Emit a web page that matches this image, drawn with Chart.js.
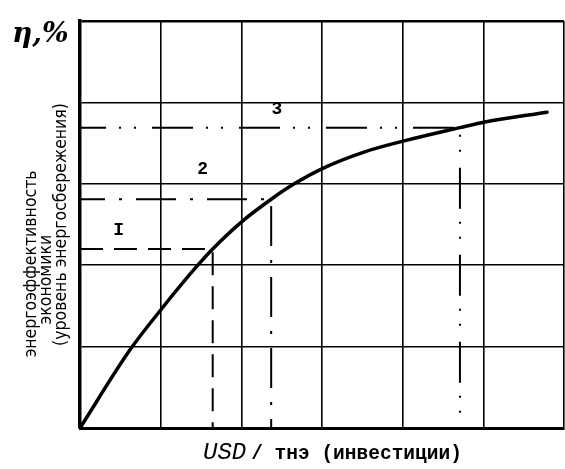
<!DOCTYPE html>
<html><head><meta charset="utf-8">
<script src="https://cdn.jsdelivr.net/npm/chart.js@4/dist/chart.umd.min.js"></script>
<style>html,body{margin:0;padding:0;background:#fff}#wrap{width:565px;height:469px;position:relative}</style>
</head><body><div id="wrap"><canvas id="c" width="565" height="469"></canvas></div>
<script>
// ---- data ----
const curveX = [0, 0.62, 1.0, 1.46, 1.645, 2.0, 2.37, 2.64, 3.01, 3.52, 4.03, 4.71, 5.02, 5.79];
const curveY = [0, 0.96, 1.45, 2.0, 2.2, 2.53, 2.81, 2.99, 3.19, 3.39, 3.53, 3.69, 3.76, 3.88];
const levelX = [1.645, 2.37, 4.71];
const levelY = [2.2, 2.81, 3.69];
const levelNames = ['I', '2', '3'];
const levelNameX = [0.48, 1.52, 2.44];
const levelNameY = [2.43, 3.18, 3.91];
const xTicks = [0, 1, 2, 3, 4, 5, 6];
const yTicks = [0, 1, 2, 3, 4, 5];
const yTitleLines = ['энергоэффективность', 'экономики', '(уровень энергосбережения)'];
const xTitleMain = 'USD';
const xTitleRest = '/ тнэ (инвестиции)';
const yUnit = 'η,%';

const levelDashes = [[23, 11], [40, 14, 3, 14], [41, 13, 2, 13, 2, 16]];
const levelDashOffsets = [0, 15, 15];

const curveData = curveX.map((x, i) => ({x: x, y: curveY[i]}));
const levelSets = levelX.map((lx, i) => ({
  data: [{x: 0, y: levelY[i]}, {x: lx, y: levelY[i]}, {x: lx, y: 0}],
  borderColor: '#000', borderWidth: 2, borderDash: levelDashes[i],
  borderDashOffset: levelDashOffsets[i], borderCapStyle: 'butt',
  pointRadius: 0, tension: 0, fill: false
}));

// pad title lines so they sit like in the original (centred lower)
const sp = n => '\u2003'.repeat(n);
const yTitleText = [yTitleLines[0] + sp(5), yTitleLines[1] + sp(7), yTitleLines[2]];

const textPlugin = {
  id: 'texts',
  afterDraw(chart) {
    const {ctx, chartArea, scales} = chart;
    const xs = scales.x, ys = scales.y;
    ctx.save();
    ctx.fillStyle = '#000';
    // unit label
    ctx.font = 'italic bold 28px "DejaVu Serif", serif';
    ctx.textAlign = 'left'; ctx.textBaseline = 'alphabetic';
    ctx.fillText(yUnit, 12, 42);
    // level names
    ctx.font = 'bold 18px "Liberation Mono", monospace';
    ctx.textAlign = 'center'; ctx.textBaseline = 'middle';
    levelNames.forEach((t, i) => {
      ctx.fillText(t, xs.getPixelForValue(levelNameX[i]), ys.getPixelForValue(levelNameY[i]));
    });
    // x axis title
    ctx.textAlign = 'left'; ctx.textBaseline = 'alphabetic';
    const base = chartArea.bottom + 31;
    let x0 = chartArea.left + 123;
    ctx.font = 'italic 24px "Liberation Mono", monospace';
    ctx.fillText(xTitleMain, x0, base);
    x0 += ctx.measureText(xTitleMain).width + 5;
    ctx.font = 'bold 19.5px "Liberation Mono", monospace';
    ctx.fillText(xTitleRest, x0, base);
    ctx.restore();
  }
};

new Chart(document.getElementById('c'), {
  type: 'line',
  data: {
    datasets: [
      {data: curveData, borderColor: '#000', borderWidth: 3.5, pointRadius: 0,
       cubicInterpolationMode: 'monotone', borderCapStyle: 'round', borderJoinStyle: 'round', fill: false},
      ...levelSets
    ]
  },
  options: {
    responsive: false, animation: false, events: [],
    layout: {padding: {left: 0, top: 21, right: 1, bottom: 41}},
    plugins: {legend: {display: false}, tooltip: {enabled: false}},
    scales: {
      x: {
        type: 'linear', min: 0, max: 6,
        afterBuildTicks: s => { s.ticks = xTicks.map(v => ({value: v})); },
        ticks: {display: false},
        grid: {color: '#000', lineWidth: 1.6, drawTicks: false},
        border: {display: true, color: '#000', width: 3}
      },
      y: {
        type: 'linear', min: 0, max: 5,
        afterBuildTicks: s => { s.ticks = yTicks.map(v => ({value: v})); },
        ticks: {display: false},
        grid: {color: '#000', lineWidth: c => (c.tick && c.tick.value === 5 ? 2.6 : 1.6), drawTicks: false},
        border: {display: true, color: '#000', width: 3.5},
        title: {
          display: true, text: yTitleText, color: '#000',
          font: {family: '"DejaVu Sans Condensed", "Liberation Sans Narrow", "Liberation Sans", sans-serif', size: 17.5, lineHeight: 0.86},
          padding: {top: 24, bottom: 10.85}
        }
      }
    }
  },
  plugins: [textPlugin]
});
</script>
</body></html>
